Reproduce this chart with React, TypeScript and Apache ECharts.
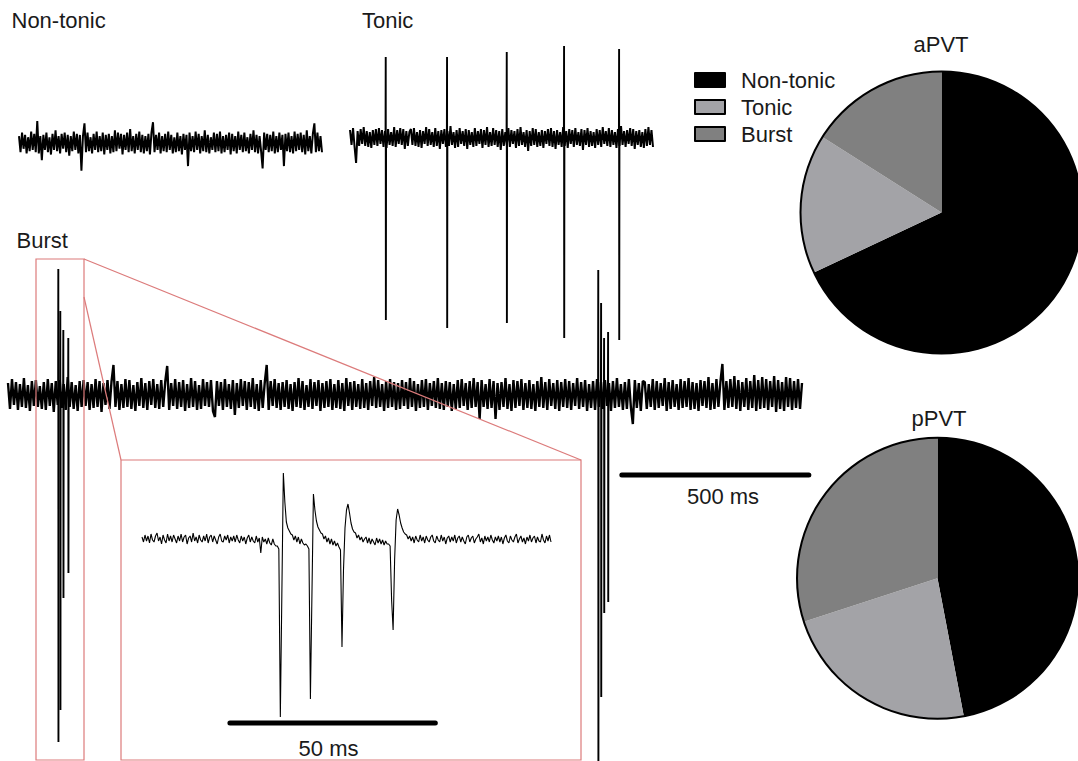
import React, { useEffect, useRef } from "react";
import * as echarts from "echarts";

const FONT = "'Liberation Sans', Arial, Helvetica, sans-serif";
const TEXT_COLOR = "#1a1a1a";

// ---------- pie data ----------
const categories = ["Non-tonic", "Tonic", "Burst"];
const aPVT = [68, 16, 16];
const pPVT = [47, 23, 30];
const sliceColors = ["#000000", "#a3a3a7", "#808080"];

// ---------- traces (µV-like units, one unit ≈ one pixel of the figure) ----------
const SWEEP_DT_MS = 4.07; // non-tonic and tonic sweeps
const BURST_DT_MS = 5.32; // long burst sweep
const INSET_DT_MS = 0.366; // expanded burst

const nonTonicNoise = [
  6, -8, 9, -5, 7, -9, 5, -7, 10, -6, 8, -8, 19, -9, 6, -15, 7, -6, 9, -8,
  5, -10, 8, -6, 11, -7, 6, -9, 8, -5, 9, -8, 7, -11, 6, -7, 10, -6, 8, -9,
  7, -24, 6, 17, -8, 9, -7, 5, -9, 8, -6, 10, -8, 6, -7, 9, -10, 7, -6, 8,
  -9, 6, -8, 11, -7, 9, -5, 8, -10, 7, -6, 9, -8, 12, -7, 6, -9, 8, -6, 10,
  -8, 7, -9, 6, -7, 8, -10, 9, 18, -8, 7, -6, 9, -9, 6, -7, 8, -8, 10, -6,
  7, -9, 5, -8, 9, -7, 6, -10, 8, -6, 7, -20, 9, -7, 6, -8, 10, -6, 8, -9,
  6, -7, 11, -8, 7, -9, 5, -6, 9, -8, 8, -7, 10, -9, 6, -8, 7, -6, 9, -10,
  8, -7, 6, -9, 10, -6, 7, -8, 9, -7, 5, -9, 8, -6, 11, -8, 7, -9, 6, -7,
  -22, 9, -6, 8, -8, 7, -7, 10, -9, 6, -8, 9, -6, 7, -20, 8, -7, 9, -8, 6,
  -9, 10, -7, 8, -6, 9, -8, 7, -10, 11, -7, 6, -9, 8, 17, -8, 9, -7, 6, -8,
];

const tonicNoise = [
  8, -7, 10, -9, -25, 7, -8, 9, -6, 11, -8, 7, -9, 6, -10, 8, -7, 9, -8, 10,
  -6, 8, -9, 7, -10, 9, -7, 6, -8, 11, -9, 8, -6, 10, -7, 9, -11, 7, -8, 6,
  9, -7, 10, -8, 6, -9, 8, -10, 7, -6, 11, -8, 9, -7, 6, -9, 10, -8, 7, -11,
  8, -6, 9, -9, 7, -8, 12, -7, 6, -10, 8, -9, 10, -6, 7, -8, 9, -11, 8, -7,
  6, -9, 10, -8, 7, -6, 9, -10, 8, -7, 11, -9, 6, -8, 10, -7, 8, -9, 7, -12,
  9, -8, 6, -7, 10, -9, 8, -6, 7, -10, 9, -8, 11, -7, 6, -9, 8, -13, 7, -8,
  10, -7, 9, -9, 6, -8, 8, -10, 7, -6, 9, -8, 10, -9, 7, -11, 8, -7, 6, -9,
  11, -8, 7, -10, 9, -6, 8, -9, 10, -7, 6, -8, 9, -12, 8, -7, 10, -9, 7, -8,
  6, -10, 9, -7, 8, -9, 11, -6, 7, -8, 10, -9, 8, -7, 6, -10, 9, -8, 12, -7,
  7, -9, 8, -6, 10, -8, 9, -11, 7, -7, 8, -9, 6, -10, 9, -8, 11, -7, 8, -9,
];
const tonicSpikeTimes = [95.5, 259.4, 419, 572.2, 719.3];
const tonicSpikeUp = [81, 81, 86, 92, 89];
const tonicSpikeDown = [-182, -190, -185, -200, -202];

const burstNoise = [
  12, -14, 16, -10, 13, -15, 11, -12, 17, -13, 10, -16, 14, -11, 15, -12, 9, -14, 13, -15,
  16, -11, 12, -17, 14, -10, 15, -13, 11, -15, 18, -12, 13, -14, 10, -16, 14, -12, 15, -11,
  13, -15, 11, -13, 16, -12, 14, -17, 12, -10, 15, -14, 13, 30, -12, 14, -15, 11, -13, 16,
  -12, 15, -14, 10, -16, 13, -11, 17, -13, 12, -15, 14, -10, 16, -13, 11, -14, 15, -12, 13,
  29, -15, 12, -11, 16, -14, 13, -12, 15, -16, 11, -13, 17, -12, 14, -15, 10, -14, 16, -11,
  13, -12, 15, -16, -22, 14, -11, 13, -15, 16, -12, 11, -14, 15, -20, 12, -13, 16, -11, 14,
  -15, 13, -12, 17, -14, 11, -16, 15, -13, 12, 30, -15, 14, -11, 16, -13, 12, -15, 13, -12,
  15, -14, 11, -16, 13, -12, 17, -13, 14, -15, 10, -12, 16, -14, 13, -11, 15, -16, 12, -13,
  14, -12, 16, -15, 11, -13, 15, -14, 12, -16, 17, -11, 13, -15, 14, -12, 11, -14, 16, -13,
  12, -15, 14, -11, 18, -13, 15, -12, 11, -16, 14, -13, 16, -12, 13, -15, 12, -14, 15, -11,
  13, -14, 17, -12, 14, -16, 11, -13, 15, -12, 16, -15, 12, -11, 14, -13, 17, -14, 12, -15,
  14, -12, 13, -16, 11, -14, 15, -13, 16, -11, 12, -15, 14, -13, 17, -12, 13, -24, 15, -12,
  11, -14, 16, -13, 14, -24, 12, -15, 13, -12, 17, -14, 11, -16, 15, -13, 14, -11, 16, -15,
  12, -13, 15, -14, 11, -16, 14, -12, 18, -13, 13, -15, 16, -11, 12, -14, 15, -16, 13, -12,
  16, -13, 14, -15, 12, -11, 17, -14, 13, -12, 15, -16, 11, -13, 14, -15, 16, -12, 13, -14,
  15, -11, 12, -16, 14, -13, 17, -12, 11, -15, 13, -14, 16, -12, -29, 15, -13, 12, -16, 14,
  13, -14, 11, -12, 16, -15, 14, -13, 12, -11, 17, -16, 13, -14, 15, -12, 11, -15, 16, -13,
  14, -12, 17, -15, 13, -14, 12, -16, 15, -11, 14, -13, 18, -15, 12, -14, 16, -12, 13, 31,
  -15, 14, -13, 16, -12, 19, -14, 15, -16, 13, -12, 17, -15, 14, -13, 20, -16, 15, -14, 18,
  -13, 16, -15, 14, -12, 19, -17, 15, -14, 13, -16, 18, -12, 17, -15, 14, -13, 16, -14, 12,
];
const burstSpikeTimes = [134.5, 139.8, 147.9, 161.2, 1578, 1585.6, 1593.6, 1604.3];
const burstSpikeUp = [126, 84, 65, 57, 125, 92, 57, 63];
const burstSpikeDown = [-347, -315, -203, -178, -380, -302, -218, -207];

const insetTrace = [
  3, -2, 5, -1, 4, -3, 6, 0, -2, 4, 7, -1, 3, -4, 5, 0, -3, 6, -1, 4,
  -2, 5, 1, -3, 4, -1, 6, -2, 3, 5, -4, 2, 4, -2, 7, -1, 3, -3, 5, 0,
  -2, 4, -1, 6, -3, 3, 5, -2, 4, 0, -4, 3, 6, -1, -2, 4, 0, 5, -3, 3,
  -1, 4, -2, 5, 0, -3, 4, -1, 3, -4, 2, 5, -2, 3, -1, -3, 4, -2, 2, -13,
  3, -2, 1, -4, 2, -3, -5, 1, -4, -6,
  -6, -9, -177, -55, 67, 38, 18, 12, 9, 6,
  5, 0, 4, -2, 3, -4, 1, -3, -5, -4,
  -6, -9, -159, -56, 46, 30, 19, 13, 10, 7,
  6, 1, 4, -2, 2, -4, 1, -5, -1, -6, -3, -7,
  -10, -107, -30, 12, 30, 36, 27, 17, 11, 8,
  7, 2, 5, 0, 3, -2, 1, 3, -3, 2, -4, 1, -2, -5, 2, -3, 1, -4, 0, -5, -1, -4,
  -4, -6, -60, -90, -20, 20, 31, 25, 17, 12, 8, 6,
  5, 1, 4, -1, 3, -3, 4, 0, -2, 5, -1, 3, -3, 4, 0, -2, 3, 5, -1, -3,
  4, 0, -2, 5, -1, 3, -4, 2, 4, -2, 3, -1, 5, -3, 2, 4, -2, 3, -1, -4,
  3, 5, -2, 2, 4, -3, 1, 3, 6, -2, 2, -4, 4, -1, 3, -2, 5, 0, -3, 3,
  -1, 4, -2, 3, -4, 2, 5, -1, -3, 4, 0, -2, 3, 6, -3, 1, 4, -2, 2, -4,
  3, -1, 5, -2, 2, 4, -3, 3, -1, -2, 6, 0, -3, 4, -1, 5, -2,
];

// scale bars: [start ms, length ms, level]
const burstScaleBar = [1641, 500, -80];
const insetScaleBar = [21.4, 50, -183];

function buildOption(): any {
  const toXY = (vals: number[], dt: number) => vals.map((v, i) => [i * dt, v]);
  const traceStyle = (w: number) => ({ color: "#000", width: w, join: "bevel" });

  const spikes = (times: number[], ups: number[], downs: number[], axis: number) =>
    times.map((t, k) => ({
      type: "line",
      xAxisIndex: axis,
      yAxisIndex: axis,
      data: [
        [t - 0.5, 0],
        [t, ups[k]],
        [t + 0.4, downs[k]],
        [t + 0.9, 0],
      ],
      symbol: "none",
      silent: true,
      z: 3,
      lineStyle: traceStyle(1.9),
    }));

  const bar = (b: number[], axis: number) => ({
    type: "line",
    xAxisIndex: axis,
    yAxisIndex: axis,
    data: [
      [b[0], b[2]],
      [b[0] + b[1], b[2]],
    ],
    symbol: "none",
    silent: true,
    clip: false,
    lineStyle: { color: "#000", width: 5, cap: "round" },
  });

  const pie = (vals: number[], center: number[], r: number) => [
    {
      type: "pie",
      center,
      radius: r,
      startAngle: 90,
      clockwise: true,
      silent: true,
      label: { show: false },
      labelLine: { show: false },
      itemStyle: { borderWidth: 0 },
      emphasis: { disabled: true },
      data: categories.map((n, i) => ({ name: n, value: vals[i], itemStyle: { color: sliceColors[i] } })),
    },
    {
      type: "pie",
      center,
      radius: [r - 1, r + 1],
      silent: true,
      label: { show: false },
      labelLine: { show: false },
      itemStyle: { borderWidth: 0 },
      emphasis: { disabled: true },
      data: [{ value: 1, itemStyle: { color: "#000" } }],
    },
  ];

  const burstSpan = (burstNoise.length - 1) * BURST_DT_MS;
  const BURST_W = 794;
  const BAR_W = 1000; // wider frame with the same ms-per-pixel as the burst sweep
  const grids = [
    { left: 19, top: 113, width: 303, height: 60 },
    { left: 350, top: 38, width: 303, height: 310 },
    { left: 8, top: 255, width: BURST_W, height: 506 },
    { left: 142, top: 465, width: 409, height: 260 },
    { left: 8, top: 255, width: BAR_W, height: 506 },
  ];
  const xMax = [
    (nonTonicNoise.length - 1) * SWEEP_DT_MS,
    (tonicNoise.length - 1) * SWEEP_DT_MS,
    burstSpan,
    (insetTrace.length - 1) * INSET_DT_MS,
    (burstSpan * BAR_W) / BURST_W,
  ];
  const yRange = [
    [-26, 26],
    [-210, 100],
    [-366, 140],
    [-185, 75],
    [-366, 140],
  ];

  const txt = (text: string, x: number, y: number, align = "left") => ({
    type: "text",
    x,
    y,
    z: 60,
    silent: true,
    style: {
      text,
      fontSize: 22,
      fontFamily: FONT,
      fill: TEXT_COLOR,
      align,
      verticalAlign: "middle",
    },
  });
  const red = "#dc7b7b";
  const redLine = (x1: number, y1: number, x2: number, y2: number) => ({
    type: "line",
    z: 50,
    silent: true,
    shape: { x1, y1, x2, y2 },
    style: { stroke: red, lineWidth: 1.2 },
  });
  const redRect = (x: number, y: number, width: number, height: number) => ({
    type: "rect",
    z: 50,
    silent: true,
    shape: { x, y, width, height },
    style: { fill: "none", stroke: red, lineWidth: 1.2 },
  });

  return {
    animation: false,
    backgroundColor: "#ffffff",
    grid: grids.map((g) => ({ ...g, containLabel: false })),
    xAxis: grids.map((_, i) => ({ type: "value", gridIndex: i, min: 0, max: xMax[i], show: false })),
    yAxis: grids.map((_, i) => ({ type: "value", gridIndex: i, min: yRange[i][0], max: yRange[i][1], show: false })),
    legend: {
      data: categories,
      orient: "vertical",
      left: 694,
      top: 69,
      padding: 0,
      itemWidth: 30,
      itemHeight: 14,
      itemGap: 5,
      icon: "rect",
      selectedMode: false,
      itemStyle: { borderColor: "#000", borderWidth: 2 },
      textStyle: { fontSize: 22, fontFamily: FONT, color: TEXT_COLOR, lineHeight: 22, padding: [0, 0, 0, 11] },
    },
    series: [
      { type: "line", xAxisIndex: 0, yAxisIndex: 0, data: toXY(nonTonicNoise, SWEEP_DT_MS), symbol: "none", silent: true, lineStyle: traceStyle(2.0) },
      { type: "line", xAxisIndex: 1, yAxisIndex: 1, data: toXY(tonicNoise, SWEEP_DT_MS), symbol: "none", silent: true, lineStyle: traceStyle(2.0) },
      ...spikes(tonicSpikeTimes, tonicSpikeUp, tonicSpikeDown, 1),
      { type: "line", xAxisIndex: 2, yAxisIndex: 2, data: toXY(burstNoise, BURST_DT_MS), symbol: "none", silent: true, lineStyle: traceStyle(2.4) },
      ...spikes(burstSpikeTimes, burstSpikeUp, burstSpikeDown, 2),
      { type: "line", xAxisIndex: 3, yAxisIndex: 3, data: toXY(insetTrace, INSET_DT_MS), symbol: "none", silent: true, lineStyle: traceStyle(1.1) },
      bar(burstScaleBar, 4),
      bar(insetScaleBar, 3),
      ...pie(aPVT, [941.5, 212.5], 141),
      ...pie(pPVT, [937.5, 578.3], 140.5),
    ],
    graphic: [
      txt("Non-tonic", 11.5, 20.5),
      txt("Tonic", 362, 20.5),
      txt("Burst", 16.5, 240),
      txt("aPVT", 941, 44, "center"),
      txt("pPVT", 939, 418.5, "center"),
      txt("500 ms", 723, 496.5, "center"),
      txt("50 ms", 328.5, 748, "center"),
      redRect(36, 259, 48, 501),
      redRect(121, 460, 460, 300),
      redLine(84, 259, 581, 460),
      redLine(84, 297, 121, 460),
    ],
  };
}

export default function App() {
  const ref = useRef<HTMLDivElement>(null);
  useEffect(() => {
    if (!ref.current) return;
    const chart = echarts.init(ref.current, undefined, { renderer: "svg" });
    chart.setOption(buildOption());
    return () => chart.dispose();
  }, []);
  return (
    <div
      ref={ref}
      style={{ position: "absolute", left: 0, top: 0, width: 1078, height: 761, background: "#fff" }}
    />
  );
}
